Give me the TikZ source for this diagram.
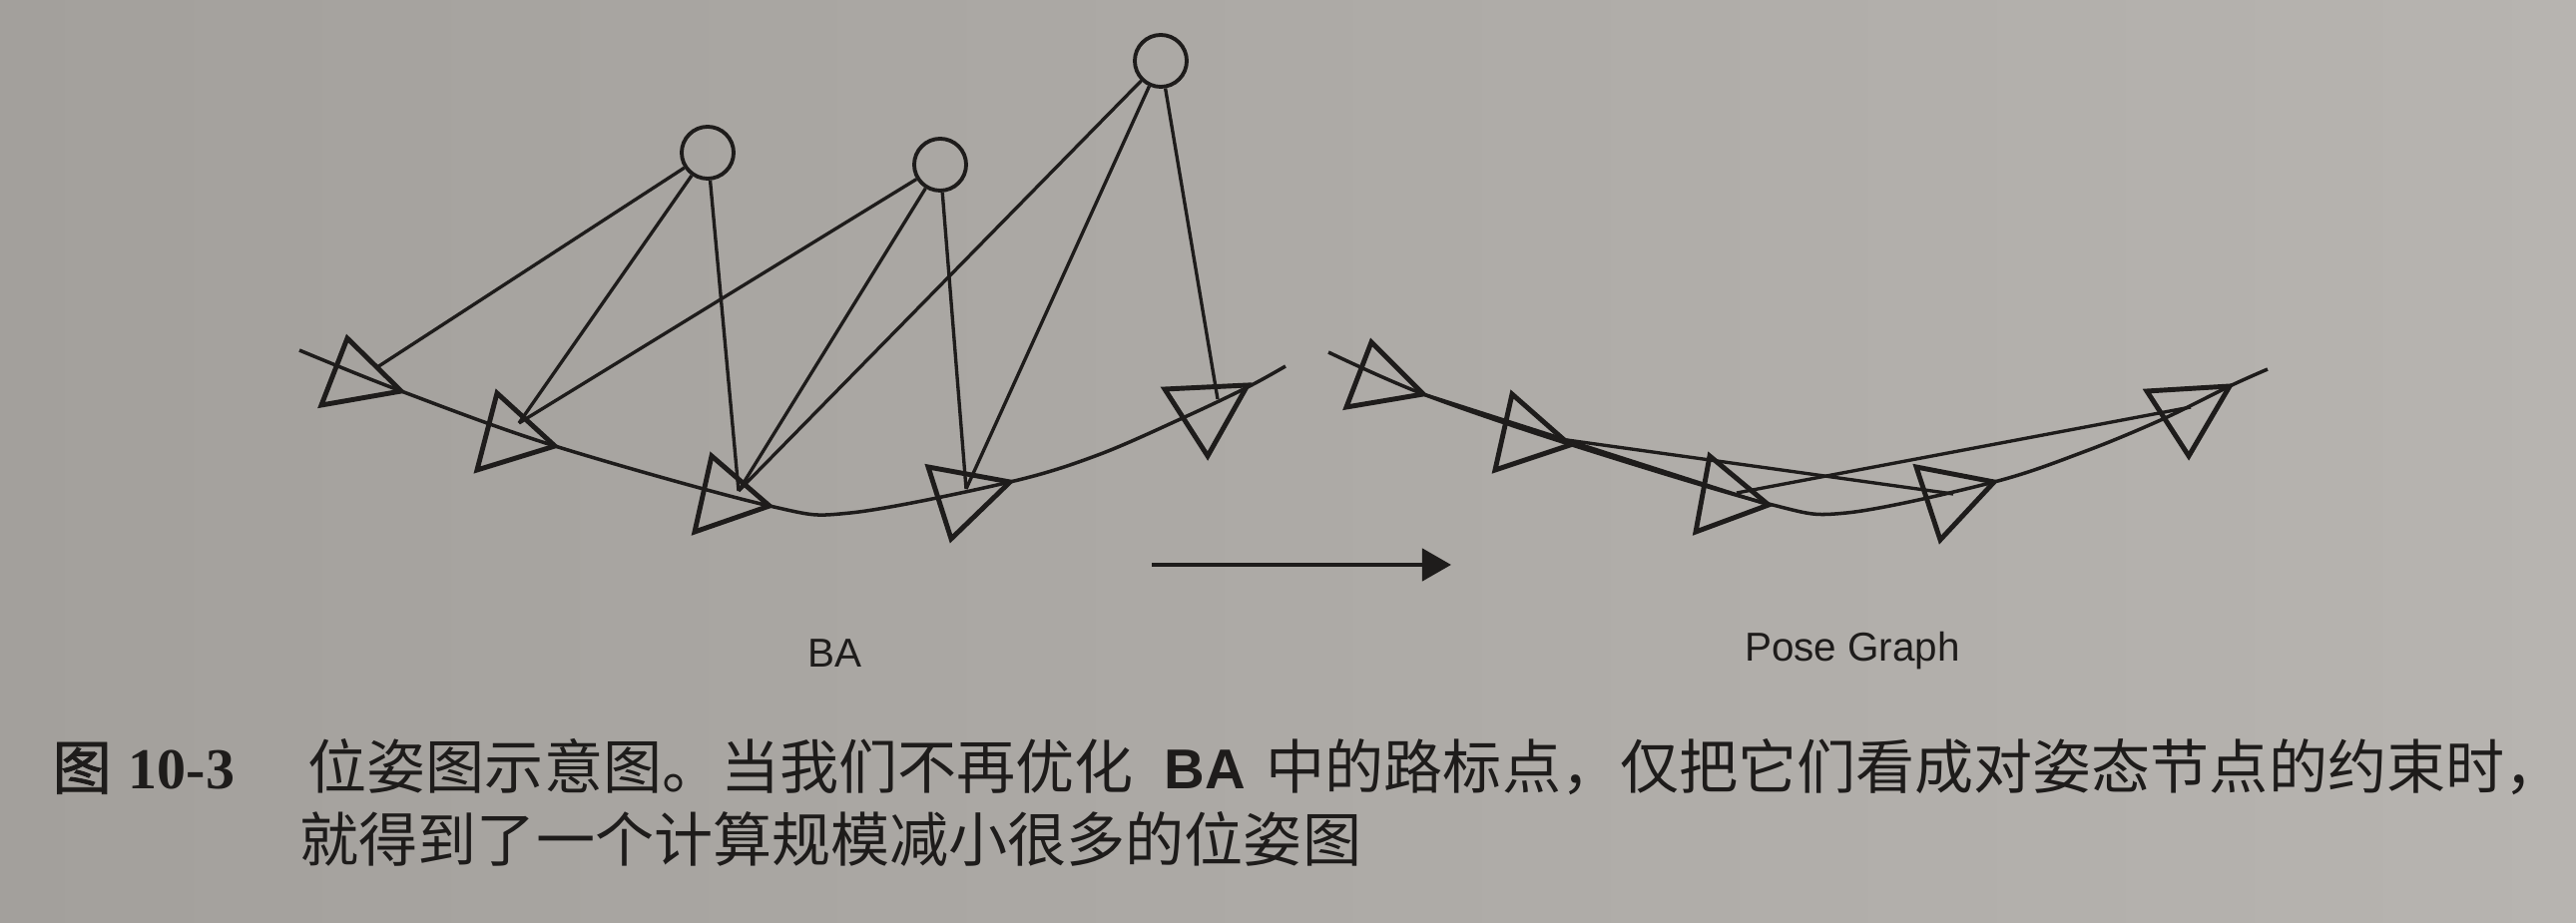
\documentclass[tikz,border=0pt]{standalone}
\usepackage{fontspec}
\setmainfont{Liberation Sans}
\newfontfamily\cjk{Noto Sans CJK SC}
\newfontfamily\cjkbold[FakeBold=1.5]{Noto Sans CJK SC}
\newfontfamily\capserif{Liberation Serif}
\usetikzlibrary{arrows.meta}
\definecolor{paperL}{RGB}{163,160,156}
\definecolor{paperR}{RGB}{183,180,176}
\definecolor{ink}{RGB}{30,28,27}
\begin{document}
\begin{tikzpicture}[x=0.01cm,y=-0.01cm,
  lm/.style={circle,draw=ink,line width=1.1pt,minimum size=0.52cm,inner sep=0pt},
  cam/.style={draw=ink,line width=1.4pt,line join=miter},
  edge/.style={draw=ink,line width=0.95pt},
  traj/.style={draw=ink,line width=1pt},
  lbl/.style={inner sep=0pt,anchor=base,text=ink,font=\fontsize{11.5}{14}\selectfont},
  captext/.style={inner sep=0pt,anchor=base west,text=ink,font=\cjk\fontsize{16.8}{20}\selectfont}]
\shade[left color=paperL,right color=paperR] (0,0) rectangle (2581,925);
\useasboundingbox (0,0) rectangle (2581,925);

% ---------------- BA (left) ----------------
% landmarks
\node[lm] (c1) at (709,153) {};
\node[lm] (c2) at (942,165) {};
\node[lm] (c3) at (1163,61) {};
% observation targets inside camera triangles
\coordinate (t1) at (378,368);
\coordinate (t2) at (520,424);
\coordinate (t3) at (740,492);
\coordinate (t4) at (968,490);
\coordinate (t5) at (1220,400);
% trajectory
\draw[traj] plot[smooth,tension=0.55] coordinates {(300,351) (402,392) (556,447) (771,507) (852,514) (1012,483) (1100,456) (1187,418) (1250,388) (1288,367)};
% observations
\draw[edge] (c1) -- (t1);
\draw[edge] (c1) -- (t2);
\draw[edge] (c1) -- (t3);
\draw[edge] (c2) -- (t2);
\draw[edge] (c2) -- (t3);
\draw[edge] (c2) -- (t4);
\draw[edge] (c3) -- (t3);
\draw[edge] (c3) -- (t4);
\draw[edge] (c3) -- (t5);
% cameras
\draw[cam] (348,339) -- (322,406) -- (402,392) -- cycle;
\draw[cam] (498,394) -- (478,471) -- (556,447) -- cycle;
\draw[cam] (713,457) -- (696,533) -- (771,507) -- cycle;
\draw[cam] (930,468) -- (1012,483) -- (953,540) -- cycle;
\draw[cam] (1167,390) -- (1250,386) -- (1210,457) -- cycle;

% ---------------- arrow ----------------
\coordinate (arrS) at (1154,566);
\coordinate (arrE) at (1454,566);
\draw[draw=ink,line width=1.3pt,-{Triangle[length=0.29cm,width=0.32cm]}] (arrS) -- (arrE);

% ---------------- Pose graph (right) ----------------
\coordinate (r1) at (1426,395);
\coordinate (r2) at (1570,441);
\coordinate (r3) at (1772,506);
\coordinate (r3c) at (1740,494);
\coordinate (r4) at (1957,495);
\coordinate (r5) at (2195,408);
\draw[traj] plot[smooth,tension=0.55] coordinates {(1331,353) (1426,395) (1572,445) (1772,505) (1850,514) (1998,483) (2090,452) (2167,420) (2234,387) (2272,370)};
\draw[edge] (r1) -- (r3);
\draw[edge] (r2) -- (r4);
\draw[edge] (r3c) -- (r5);
\draw[cam] (1374,343) -- (1349,408) -- (1426,395) -- cycle;
\draw[cam] (1515,395) -- (1498,471) -- (1573,446) -- cycle;
\draw[cam] (1713,457) -- (1699,533) -- (1772,506) -- cycle;
\draw[cam] (1920,468) -- (1998,483) -- (1944,541) -- cycle;
\draw[cam] (2151,392) -- (2234,387) -- (2193,457) -- cycle;

% ---------------- labels ----------------
\node[lbl] (lblBA) at (836,669) {BA};
\node[lbl] (lblPG) at (1856,663) {Pose Graph};

% ---------------- caption ----------------
\node[inner sep=0pt,anchor=base west,text=ink,font=\cjkbold\fontsize{16.8}{20}\selectfont] (capfig) at (52,791) {图};
\node[inner sep=0pt,anchor=base west,text=ink,font=\capserif\bfseries\fontsize{16.5}{20}\selectfont] (capnum) at (128,791) {10-3};
\node[captext] (capA) at (308,791) {位姿图示意图。当我们不再优化};
\node[inner sep=0pt,anchor=base west,text=ink,font=\bfseries\fontsize{16}{20}\selectfont] (capBA) at (1166,791) {BA};
\node[captext] (capB) at (1268,791) {中的路标点，仅把它们看成对姿态节点的约束时，};
\node[captext] (capC) at (300,864) {就得到了一个计算规模减小很多的位姿图};
\end{tikzpicture}
\end{document}
